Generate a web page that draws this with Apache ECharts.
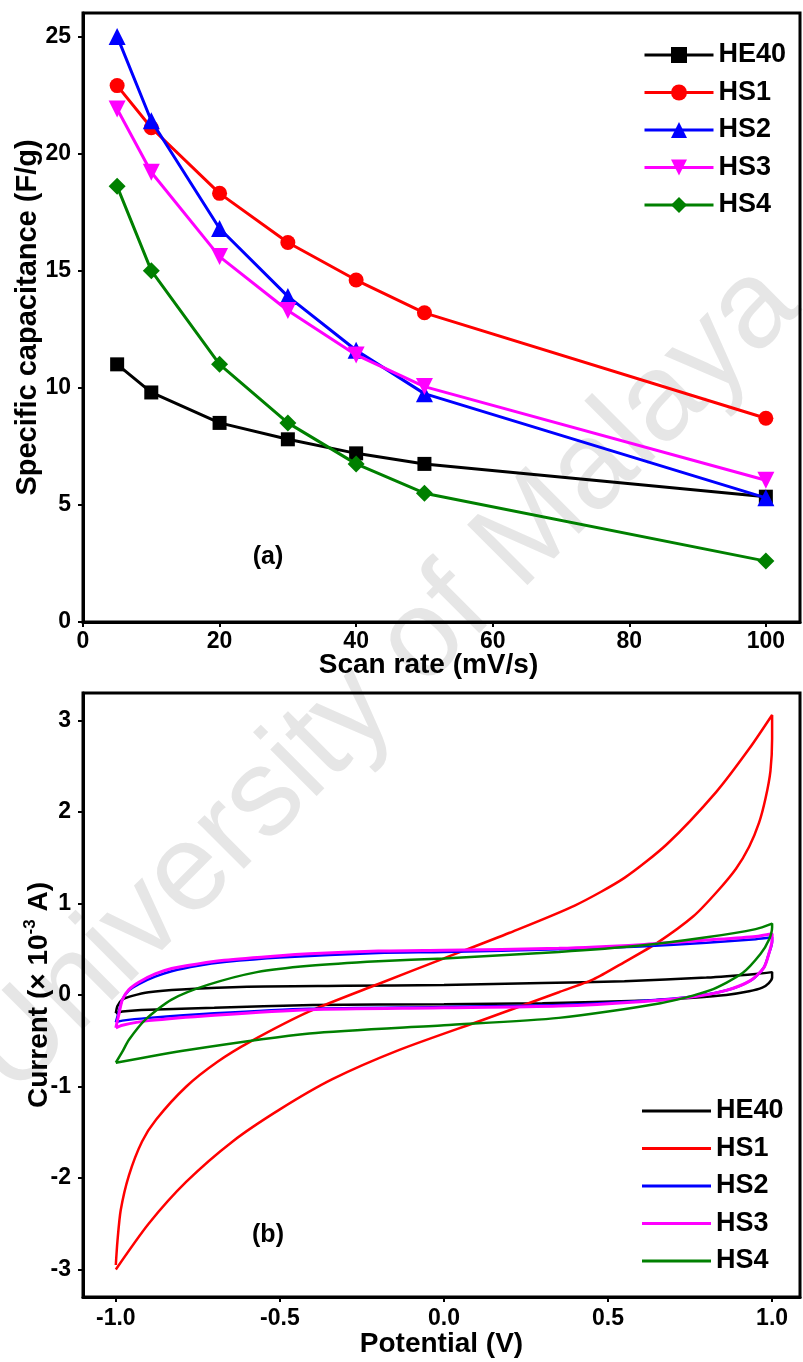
<!DOCTYPE html>
<html>
<head>
<meta charset="utf-8">
<title>Specific capacitance and cyclic voltammetry</title>
<script src="https://cdn.jsdelivr.net/npm/echarts@6/dist/echarts.min.js"></script>
<style>
  html, body { margin: 0; padding: 0; background: #ffffff; }
  #chart { width: 803px; height: 1362px; }
</style>
</head>
<body>
<div id="chart"></div>
<script>
// ---- (a) specific capacitance (F/g) versus scan rate (mV/s) ----
const scanRates = [5, 10, 20, 30, 40, 50, 100];
const capHE40 = [11.0, 9.8, 8.5, 7.8, 7.2, 6.75, 5.35];
const capHS1  = [22.9, 21.1, 18.3, 16.2, 14.6, 13.2, 8.7];
const capHS2  = [25.0, 21.4, 16.8, 13.9, 11.6, 9.75, 5.3];
const capHS3  = [21.9, 19.2, 15.6, 13.3, 11.4, 10.05, 6.05];
const capHS4  = [18.6, 15.0, 11.0, 8.5, 6.75, 5.5, 2.6];

// ---- (b) cyclic voltammograms: [potential (V), current (x10^-3 A)], forward sweep then return ----
const cvHE40 = [
  [-1.00, -0.20], [-0.995, -0.12], [-0.98, -0.05], [-0.95, -0.01], [-0.90, 0.03], [-0.80, 0.06],
  [-0.60, 0.09], [-0.30, 0.10], [0.00, 0.11], [0.30, 0.13], [0.55, 0.15], [0.80, 0.19], [0.95, 0.23], [1.00, 0.25],
  [1.00, 0.19], [0.99, 0.13], [0.97, 0.08], [0.93, 0.04], [0.86, 0.00], [0.76, -0.03], [0.62, -0.06],
  [0.30, -0.09], [0.00, -0.10], [-0.40, -0.11], [-0.70, -0.14], [-0.90, -0.16], [-0.98, -0.18], [-1.00, -0.20]
];
const cvHS1 = [
  [-1.00, -2.95], [-0.995, -2.69], [-0.985, -2.35], [-0.96, -1.97], [-0.92, -1.60], [-0.877, -1.36],
  [-0.785, -1.00], [-0.69, -0.73], [-0.59, -0.51], [-0.41, -0.18], [-0.20, 0.12], [0.00, 0.40],
  [0.20, 0.68], [0.40, 0.98], [0.55, 1.28], [0.68, 1.65], [0.83, 2.22], [0.93, 2.69], [1.00, 3.06],
  [1.00, 2.80], [0.995, 2.45], [0.98, 2.15], [0.96, 1.88], [0.93, 1.62], [0.89, 1.38], [0.83, 1.12],
  [0.76, 0.86], [0.65, 0.57], [0.55, 0.36], [0.455, 0.17], [0.35, 0.03], [0.12, -0.27], [-0.136, -0.60],
  [-0.34, -0.92], [-0.50, -1.25], [-0.644, -1.60], [-0.785, -2.04], [-0.90, -2.50], [-1.00, -3.00]
];
const cvHS2 = [
  [-1.00, -0.30], [-0.99, -0.17], [-0.98, -0.05], [-0.96, 0.05], [-0.93, 0.12], [-0.88, 0.20],
  [-0.83, 0.26], [-0.75, 0.32], [-0.67, 0.36], [-0.50, 0.41], [-0.20, 0.46], [0.00, 0.47],
  [0.35, 0.50], [0.60, 0.53], [0.80, 0.57], [0.95, 0.61], [1.00, 0.63],
  [1.00, 0.58], [0.99, 0.45], [0.975, 0.30], [0.94, 0.17], [0.87, 0.06], [0.77, -0.01], [0.62, -0.06],
  [0.35, -0.11], [0.00, -0.13], [-0.41, -0.15], [-0.70, -0.20], [-0.90, -0.25], [-0.98, -0.28], [-1.00, -0.30]
];
const cvHS3 = [
  [-1.00, -0.36], [-0.99, -0.20], [-0.98, -0.05], [-0.96, 0.06], [-0.93, 0.14], [-0.88, 0.23],
  [-0.83, 0.29], [-0.75, 0.34], [-0.67, 0.38], [-0.50, 0.43], [-0.41, 0.45], [-0.20, 0.48], [0.00, 0.49],
  [0.35, 0.51], [0.60, 0.55], [0.80, 0.60], [0.95, 0.64], [1.00, 0.67],
  [1.00, 0.60], [0.99, 0.45], [0.975, 0.30], [0.935, 0.16], [0.86, 0.05], [0.76, -0.02], [0.61, -0.07],
  [0.35, -0.12], [0.00, -0.14], [-0.41, -0.16], [-0.70, -0.22], [-0.90, -0.28], [-0.98, -0.33], [-1.00, -0.36]
];
const cvHS4 = [
  [-1.00, -0.74], [-0.98, -0.62], [-0.96, -0.49], [-0.91, -0.27], [-0.83, -0.05], [-0.72, 0.11],
  [-0.57, 0.25], [-0.41, 0.32], [-0.20, 0.37], [0.00, 0.40], [0.35, 0.47], [0.60, 0.54], [0.80, 0.63],
  [0.95, 0.72], [1.00, 0.78],
  [1.00, 0.74], [0.99, 0.60], [0.965, 0.45], [0.91, 0.24], [0.81, 0.05], [0.66, -0.09], [0.35, -0.25],
  [0.00, -0.33], [-0.41, -0.42], [-0.78, -0.60], [-1.00, -0.74]
];

// ---- tick labels ----
const scanRateTicks = [0, 20, 40, 60, 80, 100];
const capacitanceTicks = [0, 5, 10, 15, 20, 25];
const potentialTicks = [-1.0, -0.5, 0.0, 0.5, 1.0];
const currentTicks = [-3, -2, -1, 0, 1, 2, 3];

const sampleNames = ['HE40', 'HS1', 'HS2', 'HS3', 'HS4'];
const capacitanceSets = [capHE40, capHS1, capHS2, capHS3, capHS4];
const cvLoops = [cvHE40, cvHS1, cvHS2, cvHS3, cvHS4];

// per-sample drawing style
const sampleStyle = {
  HE40: { color: '#000000', symbol: 'rect',     size: 14, rotate: 0 },
  HS1:  { color: '#ff0000', symbol: 'circle',   size: 15, rotate: 0 },
  HS2:  { color: '#0000ff', symbol: 'triangle', size: 17, rotate: 0 },
  HS3:  { color: '#ff00ff', symbol: 'triangle', size: 17, rotate: 180 },
  HS4:  { color: '#008000', symbol: 'diamond',  size: 17, rotate: 0 }
};

const FONT = '"Liberation Sans", Arial, Helvetica, sans-serif';
const CV_PREFIX = 'CV ';

function boldText(size, extra) {
  return Object.assign({ fontFamily: FONT, fontWeight: 'bold', fontSize: size, color: '#000' }, extra || {});
}

function valueAxis(gridIndex, min, max, ticks, labelMargin, extra) {
  return Object.assign({
    type: 'value',
    gridIndex: gridIndex,
    min: min,
    max: max,
    splitLine: { show: false },
    axisLine: { show: true, onZero: false, lineStyle: { color: '#000', width: 3 } },
    axisTick: { show: true, inside: false, length: 5, lineStyle: { color: '#000', width: 2 }, customValues: ticks },
    axisLabel: Object.assign({ customValues: ticks, margin: labelMargin }, boldText(23)),
    nameLocation: 'middle',
    nameMoveOverlap: false,
    nameTextStyle: boldText(28)
  }, extra || {});
}

const series = [];
sampleNames.forEach(function (name, k) {
  const st = sampleStyle[name];
  series.push({
    type: 'line',
    name: name,
    xAxisIndex: 0,
    yAxisIndex: 0,
    data: scanRates.map(function (x, i) { return [x, capacitanceSets[k][i]]; }),
    symbol: st.symbol,
    symbolSize: st.size,
    symbolRotate: st.rotate,
    showAllSymbol: true,
    lineStyle: { color: st.color, width: 3 },
    itemStyle: { color: st.color },
    emphasis: { disabled: true },
    z: 2 + k
  });
});
sampleNames.forEach(function (name, k) {
  const st = sampleStyle[name];
  series.push({
    type: 'line',
    name: CV_PREFIX + name,
    xAxisIndex: 1,
    yAxisIndex: 1,
    data: cvLoops[k],
    symbol: 'none',
    smooth: 0.25,
    lineStyle: { color: st.color, width: name === 'HS3' ? 3 : 2.5 },
    itemStyle: { color: st.color },
    emphasis: { disabled: true },
    z: 2 + k
  });
});

const legendText = boldText(27, { lineHeight: 30 });

const option = {
  backgroundColor: '#ffffff',
  animation: false,
  textStyle: { fontFamily: FONT },
  grid: [
    { left: 83, top: 13, width: 717, height: 609, outerBoundsMode: 'none', containLabel: false,
      show: true, borderColor: '#000', borderWidth: 3, backgroundColor: 'transparent' },
    { left: 83, top: 693, width: 717, height: 604, outerBoundsMode: 'none', containLabel: false,
      show: true, borderColor: '#000', borderWidth: 3, backgroundColor: 'transparent' }
  ],
  xAxis: [
    valueAxis(0, 0, 105, scanRateTicks, 8, {
      name: 'Scan rate (mV/s)', nameGap: 29,
      nameTextStyle: boldText(28, { padding: [0, 26, 0, 0] })
    }),
    valueAxis(1, -1.1, 1.085, potentialTicks, 10, {
      name: 'Potential (V)', nameGap: 33,
      axisLabel: Object.assign({ customValues: potentialTicks, margin: 10,
        formatter: function (v) { return v.toFixed(1); } }, boldText(23))
    })
  ],
  yAxis: [
    valueAxis(0, 0, 26, capacitanceTicks, 12, {
      name: 'Specific capacitance (F/g)', nameGap: 41, nameRotate: 90,
      nameTextStyle: boldText(29)
    }),
    valueAxis(1, -3.3, 3.3, currentTicks, 12, {
      name: 'Current (× 10{sup|-3} A)', nameGap: 27, nameRotate: 90,
      nameTextStyle: boldText(28, {
        lineHeight: 34,
        rich: { sup: { fontFamily: FONT, fontWeight: 'bold', fontSize: 17, color: '#000', lineHeight: 17, verticalAlign: 'top' } }
      })
    })
  ],
  legend: [
    {
      orient: 'vertical', left: 643, top: 40, padding: 0,
      itemWidth: 69, itemHeight: 20, itemGap: 7.5,
      selectedMode: false,
      data: sampleNames,
      lineStyle: { width: 3 },
      textStyle: legendText
    },
    {
      orient: 'vertical', left: 642, top: 1096, padding: 0,
      itemWidth: 69, itemHeight: 3, itemGap: 7.5,
      icon: 'rect',
      selectedMode: false,
      data: sampleNames.map(function (n) { return CV_PREFIX + n; }),
      formatter: function (n) { return n.replace(CV_PREFIX, ''); },
      textStyle: legendText
    }
  ],
  graphic: [
    {
      type: 'text', x: 384, y: 680, rotation: Math.PI / 4, z: -10, silent: true,
      style: { text: 'University of Malaya', fontFamily: FONT, fontSize: 124, fill: '#e6e6e6',
               align: 'center', verticalAlign: 'middle' }
    },
    {
      type: 'text', x: 268, y: 557, z: 10,
      style: { text: '(a)', fontFamily: FONT, fontWeight: 'bold', fontSize: 25, fill: '#000',
               align: 'center', verticalAlign: 'middle' }
    },
    {
      type: 'text', x: 268, y: 1235, z: 10,
      style: { text: '(b)', fontFamily: FONT, fontWeight: 'bold', fontSize: 25, fill: '#000',
               align: 'center', verticalAlign: 'middle' }
    }
  ],
  series: series
};

const chart = echarts.init(document.getElementById('chart'), null, { renderer: 'canvas' });
chart.setOption(option);
</script>
</body>
</html>
